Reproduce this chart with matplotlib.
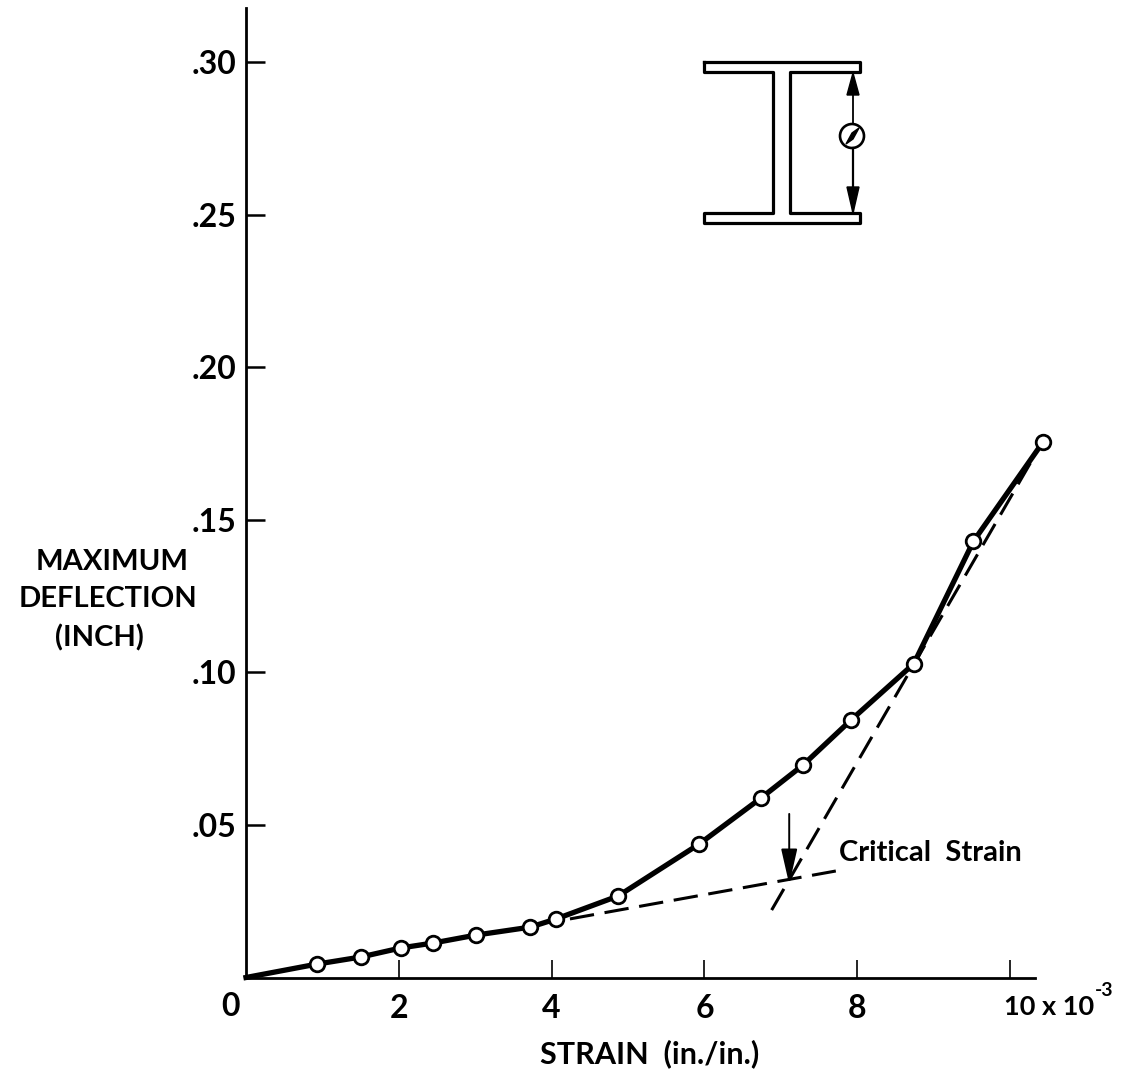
import numpy as np
import matplotlib
matplotlib.use("Agg")
import matplotlib.pyplot as plt

plt.rcParams['font.family'] = ['Lato', 'DejaVu Sans']
plt.rcParams['font.weight'] = 'bold'

# points
strain = [0, 0.93, 1.50, 2.03, 2.45, 3.01, 3.72, 4.06, 4.87, 5.93, 6.74, 7.29, 7.92, 8.74, 9.52, 10.43]
deflection = [0, 0.0044, 0.0067, 0.0097, 0.0113, 0.0139, 0.0165, 0.0192, 0.0267, 0.0437, 0.0588, 0.0696, 0.0844, 0.1028, 0.1429, 0.1754]

# tangent lines (dashed)
tan1_x = [4.24, 7.72]
tan1_y = [0.0192, 0.0349]
tan2_x = [6.88, 10.29]
tan2_y = [0.0221, 0.1696]

xticks = [2, 4, 6, 8, 10]
xticklabels = ['2', '4', '6', '8', '']
yticks = [0.05, 0.10, 0.15, 0.20, 0.25, 0.30]
yticklabels = ['.05', '.10', '.15', '.20', '.25', '.30']

W, H = 1123, 1072
fig = plt.figure(figsize=(W / 100, H / 100), dpi=100)
ax = fig.add_axes([246 / W, (H - 977.5) / H, (1035 - 246) / W, (977.5 - 8) / H])
ax.set_xlim(0, 10.327)
ax.set_ylim(0, 0.3177)
ax.spines['top'].set_visible(False)
ax.spines['right'].set_visible(False)
ax.spines['left'].set_linewidth(2.0)
ax.spines['bottom'].set_linewidth(2.0)

ax.set_xticks(xticks)
ax.set_xticklabels(xticklabels)
ax.set_yticks(yticks)
ax.set_yticklabels(yticklabels)
ax.tick_params(axis='x', direction='in', length=13, width=1.2, labelsize=23, pad=12)
ax.tick_params(axis='y', direction='in', length=14, width=1.8, labelsize=23, pad=7)

ax.plot(tan1_x, tan1_y, color='black', lw=2.2, dashes=(8, 3.5), clip_on=False)
ax.plot(tan2_x, tan2_y, color='black', lw=2.2, dashes=(8, 3.5), clip_on=False)
ax.plot(strain, deflection, color='black', lw=3.8, marker='o', ms=10.5, mfc='white',
        mec='black', mew=2.0, markevery=list(range(1, len(strain))), clip_on=False, zorder=5)

ax.annotate('', xy=(7.11, 0.0305), xytext=(7.11, 0.0536),
            arrowprops=dict(arrowstyle='-|>,head_length=2.2,head_width=0.5', color='black', lw=1.4,
                            shrinkA=0, shrinkB=0))

# labels
fig.text(230 / W, 1 - 1007 / H, '0', fontsize=23, ha='center', va='center')
fig.text(1004 / W, 1 - 1007 / H, '10 x 10', fontsize=19.5, ha='left', va='center')
fig.text(1095 / W, 1 - 990 / H, '-3', fontsize=14, ha='left', va='center')
fig.text(650 / W, 1 - 1054 / H, 'STRAIN  (in./in.)', fontsize=22, ha='center', va='center')
fig.text(930 / W, 1 - 853 / H, 'Critical  Strain', fontsize=21, ha='center', va='center')
fig.text(112 / W, 1 - 562 / H, 'MAXIMUM', fontsize=21, ha='center', va='center')
fig.text(108 / W, 1 - 599 / H, 'DEFLECTION', fontsize=21, ha='center', va='center')
fig.text(99 / W, 1 - 638 / H, '(INCH)', fontsize=21, ha='center', va='center')

# I-beam sketch, drawn in pixels on an overlay
ov = fig.add_axes([0, 0, 1, 1])
ov.set_xlim(0, W)
ov.set_ylim(H, 0)
ov.axis('off')
ov.patch.set_alpha(0)
outline_x = [704, 860, 860, 790, 790, 860, 860, 704, 704, 773, 773, 704, 704]
outline_y = [62, 62, 72, 72, 213, 213, 223, 223, 213, 213, 72, 72, 62]
ov.plot(outline_x, outline_y, color='black', lw=2.3, solid_joinstyle='round')
ov.plot([853, 853], [72, 124], color='black', lw=1.3)
ov.plot([853, 853], [148, 213], color='black', lw=1.6)
ov.fill([853, 847, 859], [73, 95, 95], color='black')
ov.fill([853, 847, 859], [213, 187, 187], color='black')
ov.add_patch(plt.Circle((852, 136), 12, fc='white', ec='black', lw=1.9))
ov.fill([846, 852, 859, 853], [144, 133, 128, 139], color='black')

fig.savefig('out.png', dpi=100)
